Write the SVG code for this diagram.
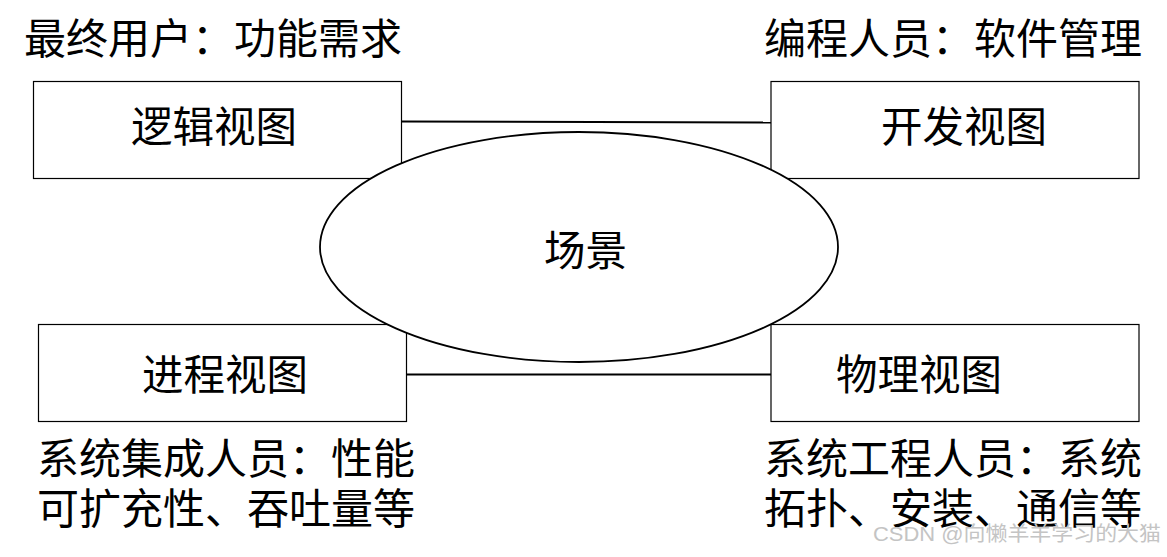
<svg xmlns="http://www.w3.org/2000/svg" width="1167" height="557" viewBox="0 0 1167 557">
<style>
text{font-family:"Noto Sans CJK SC","Liberation Sans",sans-serif;fill:#000;}
.t{font-size:41.5px;}
.l{font-size:42px;}
.box{fill:#fff;stroke:#000;stroke-width:1.2;}
.conn{stroke:#000;stroke-width:2;fill:none;}
.ell{fill:#fff;stroke:#000;stroke-width:1.8;}
.wm{font-family:"Liberation Sans","Noto Sans CJK SC",sans-serif;font-size:20px;fill:#c4c4c4;}
</style>
<rect width="1167" height="557" fill="#fff"/>
<g id="connectors">
<line class="conn" x1="402" y1="121.5" x2="771" y2="122.5"/>
<line class="conn" x1="407" y1="374.5" x2="771" y2="374.5"/>
</g>
<g id="logical">
<rect class="box" x="33.5" y="81.5" width="368" height="97"/>
<text class="t" x="131" y="142">逻辑视图</text>
</g>
<g id="development">
<rect class="box" x="771" y="81.5" width="368" height="97"/>
<text class="t" x="881" y="142">开发视图</text>
</g>
<g id="process">
<rect class="box" x="38.5" y="324.5" width="368" height="97"/>
<text class="t" x="142" y="390">进程视图</text>
</g>
<g id="physical">
<rect class="box" x="771" y="324.5" width="368" height="97"/>
<text class="t" x="836" y="390">物理视图</text>
</g>
<g id="scenario">
<ellipse class="ell" cx="579" cy="247" rx="259" ry="115"/>
<text class="t" x="544" y="266">场景</text>
</g>
<g id="labels">
<text class="l" x="24" y="54">最终用户：功能需求</text>
<text class="l" x="764" y="54">编程人员：软件管理</text>
<text class="l" x="37" y="474">系统集成人员：性能</text>
<text class="l" x="37" y="524">可扩充性、吞吐量等</text>
<text class="l" x="764" y="474">系统工程人员：系统</text>
<text class="l" x="764" y="524">拓扑、安装、通信等</text>
</g>
<text class="wm" x="873" y="541" textLength="288" lengthAdjust="spacingAndGlyphs">CSDN @向懒羊羊学习的大猫</text>
</svg>
